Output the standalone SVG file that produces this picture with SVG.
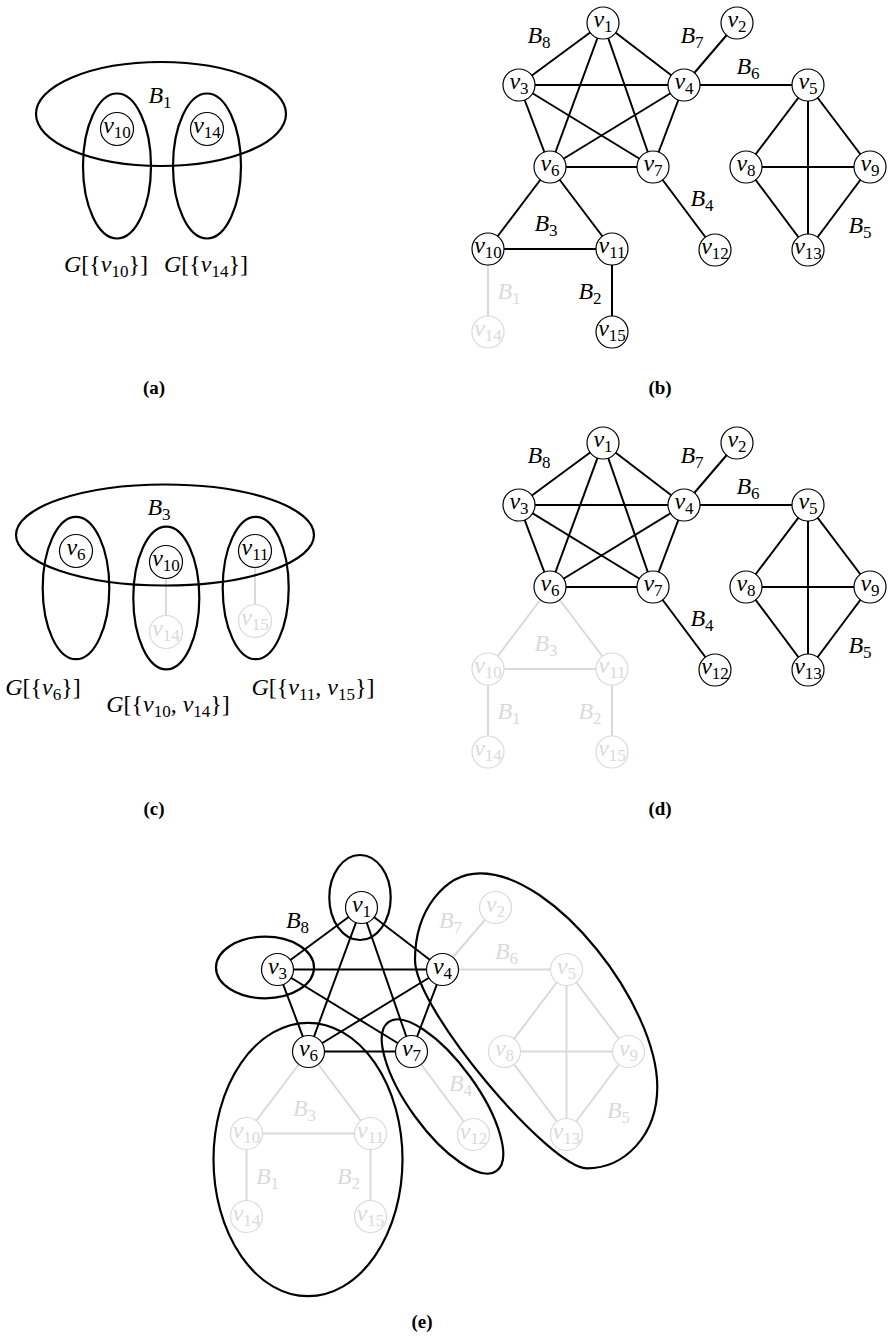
<svg xmlns="http://www.w3.org/2000/svg" width="889" height="1338" viewBox="0 0 889 1338">
<style>
.k{stroke:#000;stroke-width:2;fill:none}
.gk{stroke:#dadada;stroke-width:2;fill:none}
.el{stroke:#000;stroke-width:2.2;fill:none}
.n circle{fill:#fff;stroke:#000;stroke-width:1.2}
.n.gr circle{stroke:#dadada}
text{font-family:"Liberation Serif","Times New Roman",serif;font-size:24px;fill:#000}
.l{font-style:italic}
.sub{font-style:normal;font-size:17px}
.gr text,text.gr{fill:#dadada}
.it{font-style:italic}
.cap{font-weight:bold;font-size:19px}
</style>

<!-- Panel (a) -->
<g id="panel-a">
  <g id="a-ellipses">
    <ellipse class="el" cx="161" cy="114" rx="125" ry="52"/>
    <ellipse class="el" cx="117" cy="166" rx="34" ry="72.5"/>
    <ellipse class="el" cx="207" cy="166" rx="34" ry="72.5"/>
  </g>
  <g id="a-v10" class="n"><circle cx="117" cy="129" r="16.5"/><text class="l" x="117" y="133" text-anchor="middle">v<tspan class="sub" dy="5">10</tspan></text></g>
  <g id="a-v14" class="n"><circle cx="207" cy="129" r="16.5"/><text class="l" x="207" y="133" text-anchor="middle">v<tspan class="sub" dy="5">14</tspan></text></g>
  <text class="l" x="160" y="103" text-anchor="middle">B<tspan class="sub" dy="5">1</tspan></text>
  <text x="106" y="272" text-anchor="middle"><tspan class="it">G</tspan>[{<tspan class="it">v</tspan><tspan class="sub" dy="5">10</tspan><tspan dy="-5">}]</tspan></text>
  <text x="206" y="272" text-anchor="middle"><tspan class="it">G</tspan>[{<tspan class="it">v</tspan><tspan class="sub" dy="5">14</tspan><tspan dy="-5">}]</tspan></text>
  <text class="cap" x="154" y="394" text-anchor="middle">(a)</text>
</g>

<!-- Panel (b) -->
<g id="panel-b">
  <g id="b-edges">
    <line class="k" x1="603" y1="23" x2="519" y2="85"/>
    <line class="k" x1="603" y1="23" x2="684" y2="85"/>
    <line class="k" x1="603" y1="23" x2="550" y2="167"/>
    <line class="k" x1="603" y1="23" x2="653" y2="167"/>
    <line class="k" x1="519" y1="85" x2="684" y2="85"/>
    <line class="k" x1="519" y1="85" x2="550" y2="167"/>
    <line class="k" x1="519" y1="85" x2="653" y2="167"/>
    <line class="k" x1="684" y1="85" x2="550" y2="167"/>
    <line class="k" x1="684" y1="85" x2="653" y2="167"/>
    <line class="k" x1="550" y1="167" x2="653" y2="167"/>
    <line class="k" x1="684" y1="85" x2="737" y2="23"/>
    <line class="k" x1="684" y1="85" x2="808" y2="85"/>
    <line class="k" x1="808" y1="85" x2="746" y2="167"/>
    <line class="k" x1="808" y1="85" x2="870" y2="167"/>
    <line class="k" x1="808" y1="85" x2="808" y2="250"/>
    <line class="k" x1="746" y1="167" x2="870" y2="167"/>
    <line class="k" x1="746" y1="167" x2="808" y2="250"/>
    <line class="k" x1="870" y1="167" x2="808" y2="250"/>
    <line class="k" x1="653" y1="167" x2="715" y2="250"/>
    <line class="k" x1="550" y1="167" x2="488" y2="249"/>
    <line class="k" x1="550" y1="167" x2="612" y2="249"/>
    <line class="k" x1="488" y1="249" x2="612" y2="249"/>
    <line class="k" x1="612" y1="249" x2="612" y2="332"/>
    <line class="gk" x1="488" y1="249" x2="488" y2="332"/>
  </g>
  <g id="b-v1" class="n"><circle cx="603" cy="23" r="16"/><text class="l" x="603" y="27" text-anchor="middle">v<tspan class="sub" dy="5">1</tspan></text></g>
  <g id="b-v2" class="n"><circle cx="737" cy="23" r="16"/><text class="l" x="737" y="27" text-anchor="middle">v<tspan class="sub" dy="5">2</tspan></text></g>
  <g id="b-v3" class="n"><circle cx="519" cy="85" r="16"/><text class="l" x="519" y="89" text-anchor="middle">v<tspan class="sub" dy="5">3</tspan></text></g>
  <g id="b-v4" class="n"><circle cx="684" cy="85" r="16"/><text class="l" x="684" y="89" text-anchor="middle">v<tspan class="sub" dy="5">4</tspan></text></g>
  <g id="b-v5" class="n"><circle cx="808" cy="85" r="16"/><text class="l" x="808" y="89" text-anchor="middle">v<tspan class="sub" dy="5">5</tspan></text></g>
  <g id="b-v6" class="n"><circle cx="550" cy="167" r="16"/><text class="l" x="550" y="171" text-anchor="middle">v<tspan class="sub" dy="5">6</tspan></text></g>
  <g id="b-v7" class="n"><circle cx="653" cy="167" r="16"/><text class="l" x="653" y="171" text-anchor="middle">v<tspan class="sub" dy="5">7</tspan></text></g>
  <g id="b-v8" class="n"><circle cx="746" cy="167" r="16"/><text class="l" x="746" y="171" text-anchor="middle">v<tspan class="sub" dy="5">8</tspan></text></g>
  <g id="b-v9" class="n"><circle cx="870" cy="167" r="16"/><text class="l" x="870" y="171" text-anchor="middle">v<tspan class="sub" dy="5">9</tspan></text></g>
  <g id="b-v10" class="n"><circle cx="488" cy="249" r="16"/><text class="l" x="488" y="253" text-anchor="middle">v<tspan class="sub" dy="5">10</tspan></text></g>
  <g id="b-v11" class="n"><circle cx="612" cy="249" r="16"/><text class="l" x="612" y="253" text-anchor="middle">v<tspan class="sub" dy="5">11</tspan></text></g>
  <g id="b-v12" class="n"><circle cx="715" cy="250" r="16"/><text class="l" x="715" y="254" text-anchor="middle">v<tspan class="sub" dy="5">12</tspan></text></g>
  <g id="b-v13" class="n"><circle cx="808" cy="250" r="16"/><text class="l" x="808" y="254" text-anchor="middle">v<tspan class="sub" dy="5">13</tspan></text></g>
  <g id="b-v14" class="n gr"><circle cx="488" cy="332" r="16"/><text class="l" x="488" y="336" text-anchor="middle">v<tspan class="sub" dy="5">14</tspan></text></g>
  <g id="b-v15" class="n"><circle cx="612" cy="332" r="16"/><text class="l" x="612" y="336" text-anchor="middle">v<tspan class="sub" dy="5">15</tspan></text></g>
  <g id="b-labels">
    <text class="l" x="539" y="43" text-anchor="middle">B<tspan class="sub" dy="5">8</tspan></text>
    <text class="l" x="692" y="43" text-anchor="middle">B<tspan class="sub" dy="5">7</tspan></text>
    <text class="l" x="748" y="74" text-anchor="middle">B<tspan class="sub" dy="5">6</tspan></text>
    <text class="l" x="702" y="206" text-anchor="middle">B<tspan class="sub" dy="5">4</tspan></text>
    <text class="l" x="546" y="231" text-anchor="middle">B<tspan class="sub" dy="5">3</tspan></text>
    <text class="l" x="860" y="233" text-anchor="middle">B<tspan class="sub" dy="5">5</tspan></text>
    <text class="l" x="590" y="299" text-anchor="middle">B<tspan class="sub" dy="5">2</tspan></text>
    <text class="l gr" x="509" y="299" text-anchor="middle">B<tspan class="sub" dy="5">1</tspan></text>
  </g>
  <text class="cap" x="660" y="394" text-anchor="middle">(b)</text>
</g>

<!-- Panel (c) -->
<g id="panel-c">
  <g id="c-edges">
    <line class="gk" x1="166" y1="562" x2="166" y2="632"/>
    <line class="gk" x1="255" y1="551" x2="255" y2="621"/>
  </g>
  <g id="c-v6" class="n"><circle cx="76" cy="551" r="16.5"/><text class="l" x="76" y="555" text-anchor="middle">v<tspan class="sub" dy="5">6</tspan></text></g>
  <g id="c-v10" class="n"><circle cx="166" cy="562" r="16.5"/><text class="l" x="166" y="566" text-anchor="middle">v<tspan class="sub" dy="5">10</tspan></text></g>
  <g id="c-v11" class="n"><circle cx="255" cy="551" r="16.5"/><text class="l" x="255" y="555" text-anchor="middle">v<tspan class="sub" dy="5">11</tspan></text></g>
  <g id="c-v14" class="n gr"><circle cx="166" cy="632" r="16.5"/><text class="l" x="166" y="636" text-anchor="middle">v<tspan class="sub" dy="5">14</tspan></text></g>
  <g id="c-v15" class="n gr"><circle cx="255" cy="621" r="16.5"/><text class="l" x="255" y="625" text-anchor="middle">v<tspan class="sub" dy="5">15</tspan></text></g>
  <g id="c-ellipses">
    <ellipse class="el" cx="165" cy="535" rx="149" ry="50.5"/>
    <ellipse class="el" cx="76" cy="588" rx="33.3" ry="71.2"/>
    <ellipse class="el" cx="166.3" cy="598" rx="33" ry="71.3"/>
    <ellipse class="el" cx="255.7" cy="588" rx="33" ry="71.2"/>
  </g>
  <text class="l" x="159" y="515" text-anchor="middle">B<tspan class="sub" dy="5">3</tspan></text>
  <text x="43" y="695" text-anchor="middle"><tspan class="it">G</tspan>[{<tspan class="it">v</tspan><tspan class="sub" dy="5">6</tspan><tspan dy="-5">}]</tspan></text>
  <text x="168" y="712" text-anchor="middle"><tspan class="it">G</tspan>[{<tspan class="it">v</tspan><tspan class="sub" dy="5">10</tspan><tspan dy="-5">, </tspan><tspan class="it">v</tspan><tspan class="sub" dy="5">14</tspan><tspan dy="-5">}]</tspan></text>
  <text x="313" y="695" text-anchor="middle"><tspan class="it">G</tspan>[{<tspan class="it">v</tspan><tspan class="sub" dy="5">11</tspan><tspan dy="-5">, </tspan><tspan class="it">v</tspan><tspan class="sub" dy="5">15</tspan><tspan dy="-5">}]</tspan></text>
  <text class="cap" x="154" y="815" text-anchor="middle">(c)</text>
</g>

<!-- Panel (d) -->
<g id="panel-d" transform="translate(0,420)">
  <g id="d-edges">
    <line class="k" x1="603" y1="23" x2="519" y2="85"/>
    <line class="k" x1="603" y1="23" x2="684" y2="85"/>
    <line class="k" x1="603" y1="23" x2="550" y2="167"/>
    <line class="k" x1="603" y1="23" x2="653" y2="167"/>
    <line class="k" x1="519" y1="85" x2="684" y2="85"/>
    <line class="k" x1="519" y1="85" x2="550" y2="167"/>
    <line class="k" x1="519" y1="85" x2="653" y2="167"/>
    <line class="k" x1="684" y1="85" x2="550" y2="167"/>
    <line class="k" x1="684" y1="85" x2="653" y2="167"/>
    <line class="k" x1="550" y1="167" x2="653" y2="167"/>
    <line class="k" x1="684" y1="85" x2="737" y2="23"/>
    <line class="k" x1="684" y1="85" x2="808" y2="85"/>
    <line class="k" x1="808" y1="85" x2="746" y2="167"/>
    <line class="k" x1="808" y1="85" x2="870" y2="167"/>
    <line class="k" x1="808" y1="85" x2="808" y2="250"/>
    <line class="k" x1="746" y1="167" x2="870" y2="167"/>
    <line class="k" x1="746" y1="167" x2="808" y2="250"/>
    <line class="k" x1="870" y1="167" x2="808" y2="250"/>
    <line class="k" x1="653" y1="167" x2="715" y2="250"/>
    <line class="gk" x1="550" y1="167" x2="488" y2="249"/>
    <line class="gk" x1="550" y1="167" x2="612" y2="249"/>
    <line class="gk" x1="488" y1="249" x2="612" y2="249"/>
    <line class="gk" x1="612" y1="249" x2="612" y2="332"/>
    <line class="gk" x1="488" y1="249" x2="488" y2="332"/>
  </g>
  <g id="d-v1" class="n"><circle cx="603" cy="23" r="16"/><text class="l" x="603" y="27" text-anchor="middle">v<tspan class="sub" dy="5">1</tspan></text></g>
  <g id="d-v2" class="n"><circle cx="737" cy="23" r="16"/><text class="l" x="737" y="27" text-anchor="middle">v<tspan class="sub" dy="5">2</tspan></text></g>
  <g id="d-v3" class="n"><circle cx="519" cy="85" r="16"/><text class="l" x="519" y="89" text-anchor="middle">v<tspan class="sub" dy="5">3</tspan></text></g>
  <g id="d-v4" class="n"><circle cx="684" cy="85" r="16"/><text class="l" x="684" y="89" text-anchor="middle">v<tspan class="sub" dy="5">4</tspan></text></g>
  <g id="d-v5" class="n"><circle cx="808" cy="85" r="16"/><text class="l" x="808" y="89" text-anchor="middle">v<tspan class="sub" dy="5">5</tspan></text></g>
  <g id="d-v6" class="n"><circle cx="550" cy="167" r="16"/><text class="l" x="550" y="171" text-anchor="middle">v<tspan class="sub" dy="5">6</tspan></text></g>
  <g id="d-v7" class="n"><circle cx="653" cy="167" r="16"/><text class="l" x="653" y="171" text-anchor="middle">v<tspan class="sub" dy="5">7</tspan></text></g>
  <g id="d-v8" class="n"><circle cx="746" cy="167" r="16"/><text class="l" x="746" y="171" text-anchor="middle">v<tspan class="sub" dy="5">8</tspan></text></g>
  <g id="d-v9" class="n"><circle cx="870" cy="167" r="16"/><text class="l" x="870" y="171" text-anchor="middle">v<tspan class="sub" dy="5">9</tspan></text></g>
  <g id="d-v10" class="n gr"><circle cx="488" cy="249" r="16"/><text class="l" x="488" y="253" text-anchor="middle">v<tspan class="sub" dy="5">10</tspan></text></g>
  <g id="d-v11" class="n gr"><circle cx="612" cy="249" r="16"/><text class="l" x="612" y="253" text-anchor="middle">v<tspan class="sub" dy="5">11</tspan></text></g>
  <g id="d-v12" class="n"><circle cx="715" cy="250" r="16"/><text class="l" x="715" y="254" text-anchor="middle">v<tspan class="sub" dy="5">12</tspan></text></g>
  <g id="d-v13" class="n"><circle cx="808" cy="250" r="16"/><text class="l" x="808" y="254" text-anchor="middle">v<tspan class="sub" dy="5">13</tspan></text></g>
  <g id="d-v14" class="n gr"><circle cx="488" cy="332" r="16"/><text class="l" x="488" y="336" text-anchor="middle">v<tspan class="sub" dy="5">14</tspan></text></g>
  <g id="d-v15" class="n gr"><circle cx="612" cy="332" r="16"/><text class="l" x="612" y="336" text-anchor="middle">v<tspan class="sub" dy="5">15</tspan></text></g>
  <g id="d-labels">
    <text class="l" x="539" y="43" text-anchor="middle">B<tspan class="sub" dy="5">8</tspan></text>
    <text class="l" x="692" y="43" text-anchor="middle">B<tspan class="sub" dy="5">7</tspan></text>
    <text class="l" x="748" y="74" text-anchor="middle">B<tspan class="sub" dy="5">6</tspan></text>
    <text class="l" x="702" y="206" text-anchor="middle">B<tspan class="sub" dy="5">4</tspan></text>
    <text class="l gr" x="546" y="231" text-anchor="middle">B<tspan class="sub" dy="5">3</tspan></text>
    <text class="l" x="860" y="233" text-anchor="middle">B<tspan class="sub" dy="5">5</tspan></text>
    <text class="l gr" x="590" y="299" text-anchor="middle">B<tspan class="sub" dy="5">2</tspan></text>
    <text class="l gr" x="509" y="299" text-anchor="middle">B<tspan class="sub" dy="5">1</tspan></text>
  </g>
  <text class="cap" x="660" y="395" text-anchor="middle">(d)</text>
</g>

<!-- Panel (e) -->
<g id="panel-e">
  <g transform="translate(-241.5,884.5)">
    <g id="e-edges">
      <line class="gk" x1="684" y1="85" x2="737" y2="23"/>
      <line class="gk" x1="684" y1="85" x2="808" y2="85"/>
      <line class="gk" x1="808" y1="85" x2="746" y2="167"/>
      <line class="gk" x1="808" y1="85" x2="870" y2="167"/>
      <line class="gk" x1="808" y1="85" x2="808" y2="250"/>
      <line class="gk" x1="746" y1="167" x2="870" y2="167"/>
      <line class="gk" x1="746" y1="167" x2="808" y2="250"/>
      <line class="gk" x1="870" y1="167" x2="808" y2="250"/>
      <line class="gk" x1="653" y1="167" x2="715" y2="250"/>
      <line class="gk" x1="550" y1="167" x2="488" y2="249"/>
      <line class="gk" x1="550" y1="167" x2="612" y2="249"/>
      <line class="gk" x1="488" y1="249" x2="612" y2="249"/>
      <line class="gk" x1="612" y1="249" x2="612" y2="332"/>
      <line class="gk" x1="488" y1="249" x2="488" y2="332"/>
      <line class="k" x1="603" y1="23" x2="519" y2="85"/>
      <line class="k" x1="603" y1="23" x2="684" y2="85"/>
      <line class="k" x1="603" y1="23" x2="550" y2="167"/>
      <line class="k" x1="603" y1="23" x2="653" y2="167"/>
      <line class="k" x1="519" y1="85" x2="684" y2="85"/>
      <line class="k" x1="519" y1="85" x2="550" y2="167"/>
      <line class="k" x1="519" y1="85" x2="653" y2="167"/>
      <line class="k" x1="684" y1="85" x2="550" y2="167"/>
      <line class="k" x1="684" y1="85" x2="653" y2="167"/>
      <line class="k" x1="550" y1="167" x2="653" y2="167"/>
    </g>
    <g id="e-v1" class="n"><circle cx="603" cy="23" r="16"/><text class="l" x="603" y="27" text-anchor="middle">v<tspan class="sub" dy="5">1</tspan></text></g>
    <g id="e-v2" class="n gr"><circle cx="737" cy="23" r="16"/><text class="l" x="737" y="27" text-anchor="middle">v<tspan class="sub" dy="5">2</tspan></text></g>
    <g id="e-v3" class="n"><circle cx="519" cy="85" r="16"/><text class="l" x="519" y="89" text-anchor="middle">v<tspan class="sub" dy="5">3</tspan></text></g>
    <g id="e-v4" class="n"><circle cx="684" cy="85" r="16"/><text class="l" x="684" y="89" text-anchor="middle">v<tspan class="sub" dy="5">4</tspan></text></g>
    <g id="e-v5" class="n gr"><circle cx="808" cy="85" r="16"/><text class="l" x="808" y="89" text-anchor="middle">v<tspan class="sub" dy="5">5</tspan></text></g>
    <g id="e-v6" class="n"><circle cx="550" cy="167" r="16"/><text class="l" x="550" y="171" text-anchor="middle">v<tspan class="sub" dy="5">6</tspan></text></g>
    <g id="e-v7" class="n"><circle cx="653" cy="167" r="16"/><text class="l" x="653" y="171" text-anchor="middle">v<tspan class="sub" dy="5">7</tspan></text></g>
    <g id="e-v8" class="n gr"><circle cx="746" cy="167" r="16"/><text class="l" x="746" y="171" text-anchor="middle">v<tspan class="sub" dy="5">8</tspan></text></g>
    <g id="e-v9" class="n gr"><circle cx="870" cy="167" r="16"/><text class="l" x="870" y="171" text-anchor="middle">v<tspan class="sub" dy="5">9</tspan></text></g>
    <g id="e-v10" class="n gr"><circle cx="488" cy="249" r="16"/><text class="l" x="488" y="253" text-anchor="middle">v<tspan class="sub" dy="5">10</tspan></text></g>
    <g id="e-v11" class="n gr"><circle cx="612" cy="249" r="16"/><text class="l" x="612" y="253" text-anchor="middle">v<tspan class="sub" dy="5">11</tspan></text></g>
    <g id="e-v12" class="n gr"><circle cx="715" cy="250" r="16"/><text class="l" x="715" y="254" text-anchor="middle">v<tspan class="sub" dy="5">12</tspan></text></g>
    <g id="e-v13" class="n gr"><circle cx="808" cy="250" r="16"/><text class="l" x="808" y="254" text-anchor="middle">v<tspan class="sub" dy="5">13</tspan></text></g>
    <g id="e-v14" class="n gr"><circle cx="488" cy="332" r="16"/><text class="l" x="488" y="336" text-anchor="middle">v<tspan class="sub" dy="5">14</tspan></text></g>
    <g id="e-v15" class="n gr"><circle cx="612" cy="332" r="16"/><text class="l" x="612" y="336" text-anchor="middle">v<tspan class="sub" dy="5">15</tspan></text></g>
    <g id="e-labels">
      <text class="l" x="539" y="43" text-anchor="middle">B<tspan class="sub" dy="5">8</tspan></text>
      <text class="l gr" x="692" y="43" text-anchor="middle">B<tspan class="sub" dy="5">7</tspan></text>
      <text class="l gr" x="748" y="74" text-anchor="middle">B<tspan class="sub" dy="5">6</tspan></text>
      <text class="l gr" x="702" y="206" text-anchor="middle">B<tspan class="sub" dy="5">4</tspan></text>
      <text class="l gr" x="546" y="231" text-anchor="middle">B<tspan class="sub" dy="5">3</tspan></text>
      <text class="l gr" x="860" y="233" text-anchor="middle">B<tspan class="sub" dy="5">5</tspan></text>
      <text class="l gr" x="590" y="299" text-anchor="middle">B<tspan class="sub" dy="5">2</tspan></text>
      <text class="l gr" x="509" y="299" text-anchor="middle">B<tspan class="sub" dy="5">1</tspan></text>
    </g>
  </g>
  <g id="e-ellipses">
    <ellipse class="el" cx="360" cy="897.5" rx="30.7" ry="42.5"/>
    <ellipse class="el" cx="265" cy="967.5" rx="49" ry="30.8"/>
    <ellipse class="el" cx="308" cy="1159.5" rx="94.5" ry="136.7"/>
    <ellipse class="el" cx="442.5" cy="1096.5" rx="92" ry="34" transform="rotate(54 442.5 1096.5)"/>
    <path class="el" d="M480,873.3 C555,873 657,1005 657.3,1086.7 C657.3,1135 625,1168.3 586.7,1168.3 C550,1168 415,1010 415,960 C415,910 445,873.3 480,873.3 Z"/>
  </g>
  <text class="cap" x="422" y="1328" text-anchor="middle">(e)</text>
</g>
</svg>
